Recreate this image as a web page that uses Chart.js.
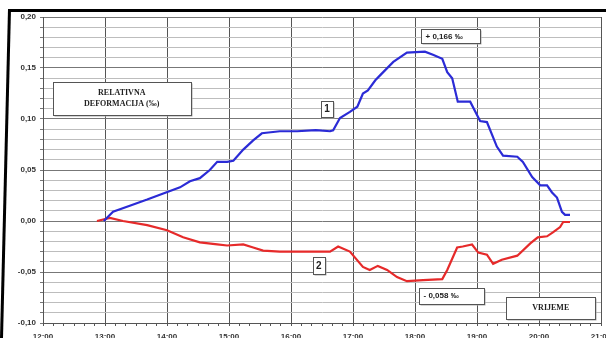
<!DOCTYPE html>
<html>
<head>
<meta charset="utf-8">
<script src="https://cdn.jsdelivr.net/npm/chart.js@4.4.1/dist/chart.umd.min.js"></script>
<style>
  html, body { margin: 0; padding: 0; background: #fff; }
  canvas { display: block; }
</style>
</head>
<body>
<canvas id="myChart" width="606" height="338"></canvas>
<script>
'use strict';

// time in decimal hours, deformation in permille
var blueTime = [12.98, 13.13, 13.40, 13.68, 13.94, 14.21, 14.37, 14.53, 14.69, 14.81, 14.97, 15.07, 15.23, 15.39, 15.53, 15.82,
  16.10, 16.40, 16.63, 16.68, 16.79, 16.95, 17.07, 17.16, 17.24, 17.36, 17.44, 17.65, 17.87, 18.16, 18.29, 18.44, 18.52,
  18.60, 18.69, 18.89, 19.05, 19.16, 19.32, 19.42, 19.65, 19.74, 19.89, 20.02, 20.13, 20.21, 20.29, 20.37, 20.42, 20.50];
var blueVal = [0.000, 0.009, 0.015, 0.021, 0.027, 0.033, 0.039, 0.042, 0.050, 0.058, 0.058, 0.059, 0.070, 0.079, 0.086, 0.088,
  0.088, 0.089, 0.088, 0.089, 0.101, 0.107, 0.112, 0.125, 0.128, 0.138, 0.143, 0.156, 0.165, 0.166, 0.163, 0.159, 0.146,
  0.140, 0.117, 0.117, 0.098, 0.097, 0.073, 0.064, 0.063, 0.058, 0.043, 0.035, 0.035, 0.028, 0.023, 0.009, 0.006, 0.006];

var redTime = [12.87, 13.08, 13.29, 13.68, 14.00, 14.26, 14.53, 14.81, 14.97, 15.23, 15.39, 15.55, 15.82, 16.20, 16.63,
  16.76, 16.95, 17.16, 17.27, 17.40, 17.55, 17.71, 17.87, 18.13, 18.44, 18.52, 18.68, 18.77, 18.92, 19.02, 19.16, 19.26,
  19.40, 19.65, 19.86, 19.98, 20.13, 20.23, 20.34, 20.39, 20.50];
var redVal = [0.000, 0.003, 0.000, -0.004, -0.009, -0.016, -0.021, -0.023, -0.024, -0.023, -0.026, -0.029, -0.030, -0.030, -0.030,
  -0.025, -0.030, -0.045, -0.048, -0.044, -0.048, -0.055, -0.059, -0.058, -0.057, -0.048, -0.026, -0.025, -0.023, -0.031, -0.033, -0.042,
  -0.038, -0.034, -0.022, -0.016, -0.015, -0.011, -0.006, -0.001, -0.001];

var X_MIN = 12, X_MAX = 21;
var Y_MIN = -0.10, Y_MAX = 0.20;

// text boxes drawn on the chart, placed in data space
var notes = [
  { h: 13.27, v: 0.120, w: 138, ht: 33, lines: ['RELATIVNA', 'DEFORMACIJA (‰)'], font: 'bold 8px "Liberation Serif"' },
  { h: 18.57, v: 0.181, w: 59, ht: 14, lines: ['+ 0,166 ‰'], font: 'bold 8px "Liberation Sans"', align: 'left' },
  { h: 16.58, v: 0.110, w: 12, ht: 16, lines: ['1'], font: 'bold 10px "Liberation Sans"' },
  { h: 16.45, v: -0.044, w: 12, ht: 17, lines: ['2'], font: 'bold 10px "Liberation Sans"' },
  { h: 18.59, v: -0.0735, w: 65, ht: 16, lines: ['- 0,058 ‰'], font: 'bold 8px "Liberation Sans"', align: 'left' },
  { h: 20.19, v: -0.085, w: 89, ht: 22, lines: ['VRIJEME'], font: 'bold 8px "Liberation Serif"' }
];

function toPoints(times, vals) {
  return times.map(function (t, i) { return { x: t * 60, y: vals[i] }; });
}

function isMajor(v) {
  return Math.round(v * 100) % 5 === 0;
}

var framePlugin = {
  id: 'frame',
  beforeDraw: function (chart) {
    var ctx = chart.ctx;
    ctx.save();
    ctx.fillStyle = '#fff';
    ctx.fillRect(0, 0, chart.width, chart.height);
    ctx.fillStyle = '#000';
    ctx.fillRect(8, 9, chart.width, 3);
    ctx.beginPath();
    ctx.moveTo(8, 9);
    ctx.lineTo(11, 9);
    ctx.lineTo(3, chart.height);
    ctx.lineTo(0, chart.height);
    ctx.closePath();
    ctx.fill();
    ctx.restore();
  }
};

var notesPlugin = {
  id: 'notes',
  afterDatasetsDraw: function (chart) {
    var ctx = chart.ctx;
    var xs = chart.scales.x, ys = chart.scales.y;
    ctx.save();
    notes.forEach(function (n) {
      var cx = xs.getPixelForValue(n.h * 60);
      var cy = ys.getPixelForValue(n.v);
      var left = Math.round(cx - n.w / 2) + 0.5;
      var top = Math.round(cy - n.ht / 2) + 0.5;
      ctx.fillStyle = '#aaa';
      ctx.fillRect(left + 1, top + 1, n.w, n.ht);
      ctx.fillStyle = '#fff';
      ctx.fillRect(left, top, n.w, n.ht);
      ctx.strokeStyle = '#555';
      ctx.lineWidth = 1;
      ctx.strokeRect(left, top, n.w, n.ht);
      ctx.fillStyle = '#222';
      ctx.font = n.font;
      ctx.textBaseline = 'middle';
      var lh = 11;
      var y0 = cy - (n.lines.length - 1) * lh / 2;
      n.lines.forEach(function (s, i) {
        if (n.align === 'left') {
          ctx.textAlign = 'left';
          ctx.fillText(s, left + 4, y0 + i * lh);
        } else {
          ctx.textAlign = 'center';
          ctx.fillText(s, cx, y0 + i * lh);
        }
      });
    });
    ctx.restore();
  }
};

var ctx = document.getElementById('myChart').getContext('2d');
var lineChart = new Chart(ctx, {
  type: 'line',
  data: {
    datasets: [
      {
        data: toPoints(blueTime, blueVal),
        borderColor: '#2b2bd6',
        borderWidth: 2.2,
        pointRadius: 0,
        tension: 0,
        fill: false
      },
      {
        data: toPoints(redTime, redVal),
        borderColor: '#e62a2a',
        borderWidth: 2.2,
        pointRadius: 0,
        tension: 0,
        fill: false
      }
    ]
  },
  options: {
    responsive: false,
    animation: false,
    devicePixelRatio: 1,
    layout: { padding: { left: 5, top: 17, right: 5, bottom: 0 } },
    plugins: {
      legend: { display: false },
      tooltip: { enabled: false }
    },
    scales: {
      x: {
        type: 'linear',
        min: X_MIN * 60,
        max: X_MAX * 60,
        afterFit: function (scale) {
          scale.height = 15;
          scale.paddingLeft = 0;
          scale.paddingRight = 0;
        },
        ticks: {
          stepSize: 10,
          autoSkip: false,
          maxRotation: 0,
          padding: 6,
          color: '#333',
          font: { family: 'Liberation Sans', size: 8, weight: 'bold' },
          callback: function (v) {
            return v % 60 === 0 ? (v / 60) + ':00' : '';
          }
        },
        grid: {
          color: function (c) {
            return c.tick && c.tick.value % 60 === 0 ? '#555' : 'rgba(0,0,0,0)';
          },
          tickColor: '#555',
          tickLength: 3
        },
        border: { color: '#555' }
      },
      y: {
        min: Y_MIN,
        max: Y_MAX,
        afterFit: function (scale) {
          scale.width = 38;
          scale.paddingTop = 0;
          scale.paddingBottom = 0;
        },
        ticks: {
          stepSize: 0.01,
          autoSkip: false,
          padding: 4,
          color: '#333',
          font: { family: 'Liberation Sans', size: 8, weight: 'bold' },
          callback: function (v) {
            return isMajor(v) ? v.toFixed(2).replace('.', ',') : '';
          }
        },
        grid: {
          color: function (c) {
            return c.tick && isMajor(c.tick.value) ? '#777' : '#bdbdbd';
          },
          tickColor: '#777',
          tickLength: 3
        },
        border: { color: '#555' }
      }
    }
  },
  plugins: [framePlugin, notesPlugin]
});
</script>
</body>
</html>
